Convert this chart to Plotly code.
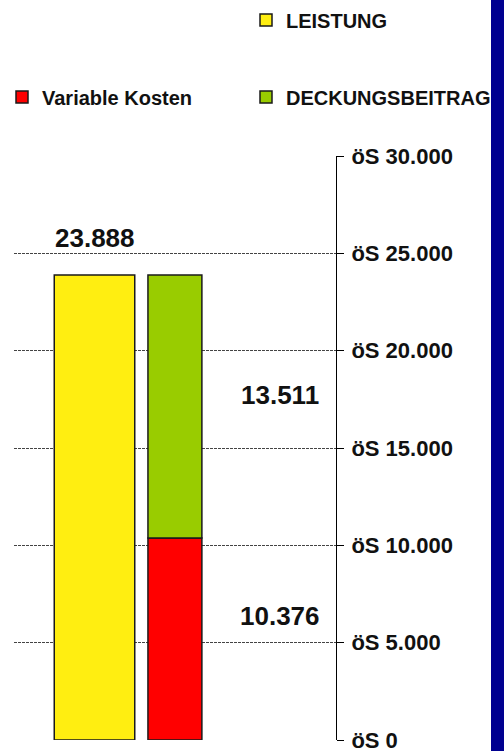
import plotly.graph_objects as go

# ---- data ----
categories = ["Leistung", "Kosten / DB"]
leistung = [23888]
variable_kosten = [10376]
deckungsbeitrag = [13511]
tick_values = [0, 5000, 10000, 15000, 20000, 25000, 30000]


def de(v):
    return f"{v:,}".replace(",", ".")


tick_text = ["öS " + de(v) for v in tick_values]
cat_pos = {c: i for i, c in enumerate(categories)}

COL_Y = "#FFEE11"
COL_R = "#FF0000"
COL_G = "#99CC00"
OUT = "#1a1a1a"
FONT = "Liberation Sans"

fig = go.Figure()
fig.add_trace(go.Bar(
    x=[cat_pos[categories[0]]], y=leistung, name="LEISTUNG", width=0.5,
    marker=dict(color=COL_Y, line=dict(color=OUT, width=1.5)),
    legend="legend", hoverinfo="skip"))
fig.add_trace(go.Bar(
    x=[cat_pos[categories[1]]], y=variable_kosten, name="Variable Kosten",
    width=0.335, offset=-0.668,
    marker=dict(color=COL_R, line=dict(color=OUT, width=1.5)),
    legend="legend2", hoverinfo="skip"))
fig.add_trace(go.Bar(
    x=[cat_pos[categories[1]]], y=deckungsbeitrag, name="DECKUNGSBEITRAG",
    base=variable_kosten, width=0.335, offset=-0.668,
    marker=dict(color=COL_G, line=dict(color=OUT, width=1.5)),
    legend="legend3", hoverinfo="skip"))

# value labels
ann_font = dict(family=FONT, size=26, color="#111111", weight="bold")
fig.add_annotation(x=cat_pos[categories[0]], y=leistung[0], text=de(leistung[0]),
                   showarrow=False, yanchor="middle", yshift=37, font=ann_font)
fig.add_annotation(x=cat_pos[categories[1]],
                   y=variable_kosten[0] + deckungsbeitrag[0] / 2,
                   text=de(deckungsbeitrag[0]), showarrow=False,
                   yanchor="middle", xshift=24, yshift=12, font=ann_font)
fig.add_annotation(x=cat_pos[categories[1]], y=variable_kosten[0] / 2,
                   text=de(variable_kosten[0]), showarrow=False,
                   yanchor="middle", xshift=24, yshift=23, font=ann_font)

# blue bar at right edge
fig.add_shape(type="rect", xref="paper", yref="paper",
              x0=(491 - 14) / 322, x1=1.7, y0=-0.2, y1=1.4,
              fillcolor="#000090", line=dict(width=0), layer="above")

leg_font = dict(family=FONT, size=20, color="#111111", weight="bold")
leg_common = dict(xref="container", yref="container", xanchor="left",
                  yanchor="middle", bgcolor="rgba(0,0,0,0)", borderwidth=0,
                  font=leg_font, itemclick=False, itemdoubleclick=False)

fig.update_layout(
    width=504, height=751,
    margin=dict(l=14, r=168, t=156, b=11, autoexpand=False),
    paper_bgcolor="white", plot_bgcolor="white",
    barmode="overlay", bargap=0,
    showlegend=True,
    legend=dict(x=246 / 504, y=1 - 20 / 751, **leg_common),
    legend2=dict(x=2 / 504, y=1 - 97 / 751, **leg_common),
    legend3=dict(x=246 / 504, y=1 - 97 / 751, **leg_common),
    xaxis=dict(range=[-0.5, len(categories) - 0.5], showticklabels=False,
               showgrid=False, zeroline=False, showline=False, ticks=""),
    yaxis=dict(side="right", range=[0, 30000], tickvals=tick_values,
               ticktext=tick_text, showgrid=True, gridcolor="#444444",
               griddash="3px,1px", gridwidth=1, zeroline=False,
               showline=True, linecolor="black", linewidth=1,
               ticks="outside", ticklen=7, tickcolor="black",
               ticklabelstandoff=3, automargin=False,
               ticklabeloverflow="allow",
               tickfont=dict(family=FONT, size=22, color="#111111",
                             weight="bold")),
)

fig.write_html("out.html",
               config={"displayModeBar": False, "staticPlot": True},
               post_script="document.body.style.margin='0px';"
                           "document.body.style.overflow='hidden';")
